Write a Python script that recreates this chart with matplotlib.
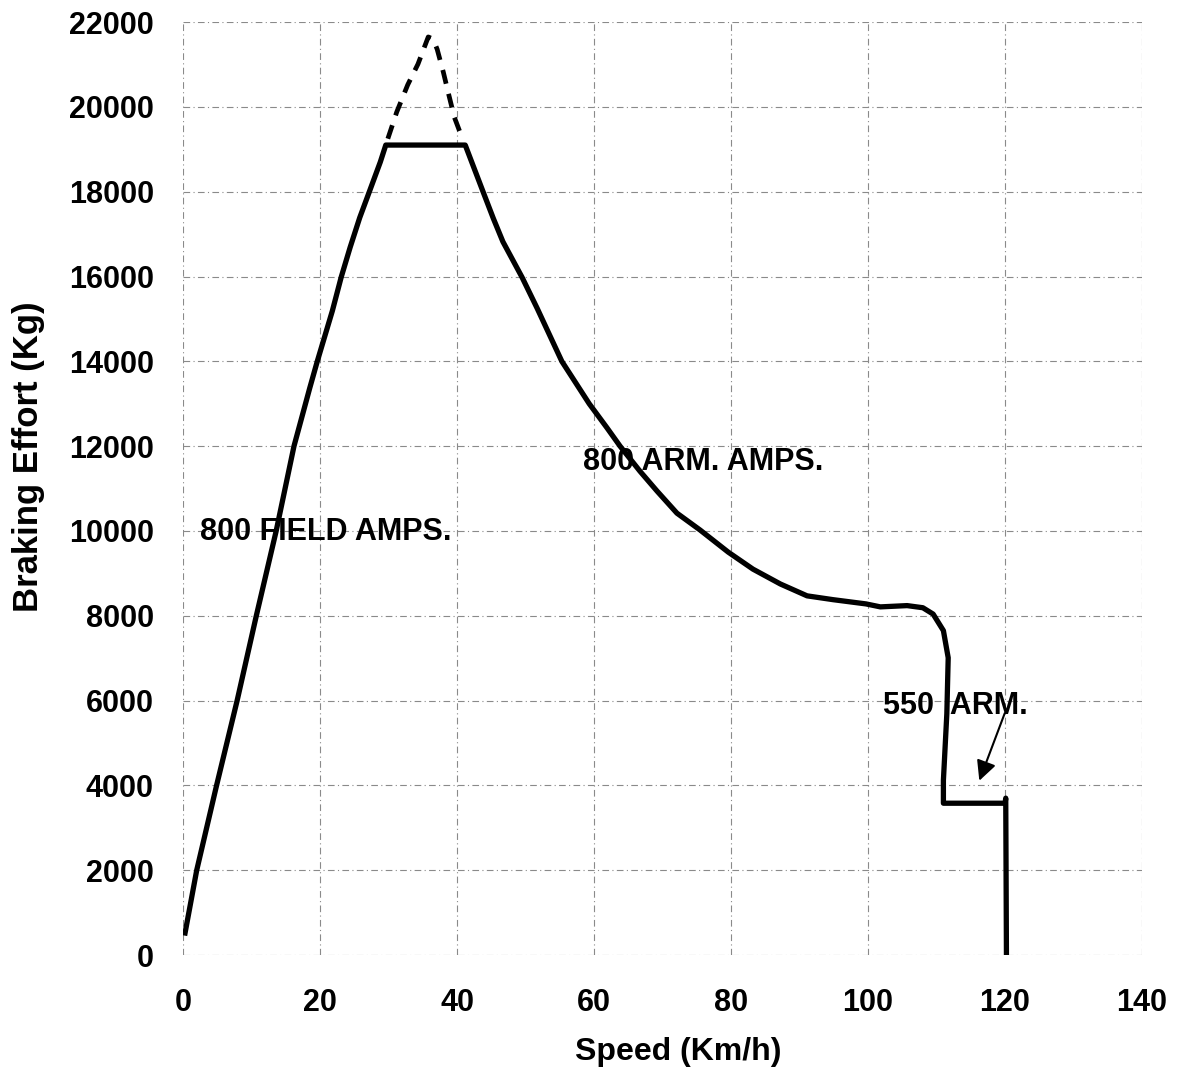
# -*- coding: utf-8 -*-
"""
Braking effort vs speed curve (rheostatic braking characteristic)
"""
#import useful libraries
import matplotlib.pyplot as plt

plt.rcParams['font.family'] = ['Liberation Sans', 'DejaVu Sans']

#speed (Km/h) and braking effort (Kg)
speed = [0.3, 2.0, 4.9, 7.9, 10.7, 13.6, 16.2, 18.5, 19.6, 21.8, 23.1, 24.4, 25.8,
         27.2, 28.8, 29.6,
         41.2, 43.8, 45.3, 46.7, 49.5, 51.7, 53.6, 55.3, 57.3, 59.3, 61.9, 63.8,
         66.7, 69.2, 72.1, 75.5, 79.6, 83.2, 87.2, 91.1, 94.9, 99.7, 101.8,
         105.7, 108.0, 109.5, 111.0, 111.7, 111.5, 111.0, 111.0, 120.0, 120.1, 120.2]
effort = [520, 2000, 4000, 6000, 8000, 10000, 12000, 13370, 14000, 15190, 15990, 16690, 17390,
          18000, 18700, 19100,
          19100, 18000, 17370, 16820, 15980, 15250, 14590, 14000, 13500, 13000, 12430, 12000,
          11410, 10940, 10420, 10020, 9500, 9100, 8750, 8470, 8380, 8280, 8210,
          8240, 8190, 8040, 7650, 7010, 5690, 4120, 3580, 3580, 3700, 50]

#dashed peak above the flat part
peakSpeed = [29.9, 31.2, 32.8, 34.3, 35.8, 36.5, 37.1, 38.0, 38.7, 39.6, 40.7]
peakEffort = [19250, 19880, 20520, 21010, 21650, 21600, 21360, 20820, 20350, 19760, 19290]

xTicks = [0, 20, 40, 60, 80, 100, 120, 140]
yTicks = list(range(0, 22001, 2000))

fig = plt.figure(figsize=(11.83, 10.72), dpi=100)
ax = fig.add_axes([0.1547, 0.1091, 0.8107, 0.8703])

ax.plot(speed, effort, color="black", linewidth=3.8, solid_joinstyle="round")
ax.plot(peakSpeed, peakEffort, color="black", linewidth=3.4, linestyle=(0, (3, 2.2)))

ax.set_xlim(0, 140)
ax.set_ylim(0, 22000)
ax.set_xticks(xTicks)
ax.set_yticks(yTicks)
ax.grid(True, color="#8a8a8a", linestyle=(0, (6, 3, 1, 3)), linewidth=0.8)
for s in ax.spines.values():
    s.set_visible(False)
ax.tick_params(axis="both", length=0, labelsize=22)
ax.tick_params(axis="x", pad=24)
ax.tick_params(axis="y", pad=21)
for lbl in ax.get_xticklabels() + ax.get_yticklabels():
    lbl.set_fontweight("bold")

#curve labels
ax.text(2.5, 9970, "800 FIELD AMPS.", fontsize=22, fontweight="bold", va="center")
ax.text(58.4, 11620, "800 ARM. AMPS.", fontsize=22, fontweight="bold", va="center")
ax.text(102.2, 5870, "550  ARM.", fontsize=22, fontweight="bold", va="center")
ax.annotate("", xy=(116.1, 4050), xytext=(120.1, 5765),
            arrowprops=dict(arrowstyle="-|>", color="black", lw=1.5, mutation_scale=30))

#axis titles
fig.text(0.573, 0.019, "Speed (Km/h)", fontsize=23, fontweight="bold", ha="center", va="center")
fig.text(0.024, 0.574, "Braking Effort (Kg)", fontsize=25, fontweight="bold",
         ha="center", va="center", rotation=90)

plt.savefig("out.png", dpi=100)
